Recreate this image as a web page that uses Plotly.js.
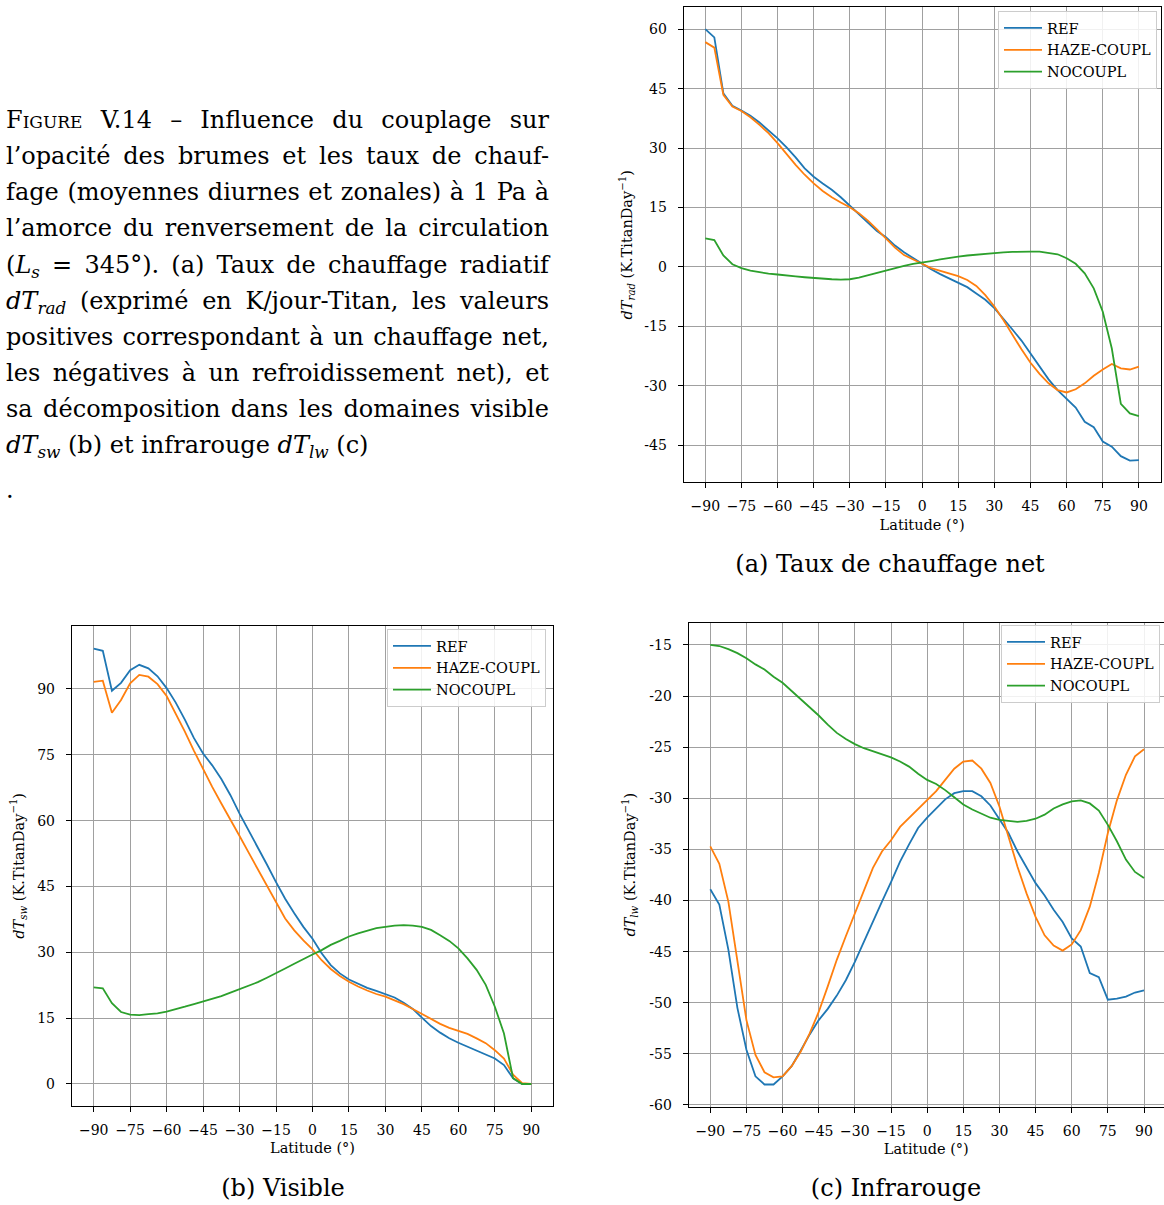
<!DOCTYPE html>
<html>
<head>
<meta charset="utf-8">
<script src="https://cdn.plot.ly/plotly-3.0.1.min.js"></script>
<style>
  html, body { margin: 0; padding: 0; background: #fff; }
  #wrap { position: relative; width: 1164px; height: 1205px; overflow: hidden; }
  #plot { position: absolute; left: 0; top: 0; width: 1164px; height: 1205px; }
  .cap { position: absolute; left: 6px; width: 543px; font-family: "DejaVu Serif", serif;
         font-size: 24px; line-height: 36px; height: 36px; color: #000; white-space: nowrap; }
  .just { text-align: justify; text-align-last: justify; white-space: normal; }
  .cap sub, .sub sub { font-size: 0.7em; vertical-align: -0.3em; line-height: 1; }
  .sc { font-variant: small-caps; }
  .sub { position: absolute; font-family: "DejaVu Serif", serif; font-size: 24px;
         line-height: 30px; height: 30px; color: #000; text-align: center; white-space: nowrap; }
</style>
</head>
<body>
<div id="wrap">
  <div id="plot"></div>
  <div class="cap just" style="top:102px"><span class="sc">Figure</span> V.14 – Influence du couplage sur</div>
  <div class="cap just" style="top:138px">l’opacité des brumes et les taux de chauf-</div>
  <div class="cap just" style="top:174px">fage (moyennes diurnes et zonales) à 1 Pa à</div>
  <div class="cap just" style="top:210px">l’amorce du renversement de la circulation</div>
  <div class="cap just" style="top:247px">(<i>L<sub>s</sub></i> = 345°). (a) Taux de chauffage radiatif</div>
  <div class="cap just" style="top:283px"><i>dT<sub>rad</sub></i> (exprimé en K/jour-Titan, les valeurs</div>
  <div class="cap just" style="top:319px">positives correspondant à un chauffage net,</div>
  <div class="cap just" style="top:355px">les négatives à un refroidissement net), et</div>
  <div class="cap just" style="top:391px">sa décomposition dans les domaines visible</div>
  <div class="cap" style="top:427px"><i>dT<sub>sw</sub></i> (b) et infrarouge <i>dT<sub>lw</sub></i> (c)</div>
  <div class="cap" style="top:472px">.</div>
  <div class="sub" style="left:690px; width:400px; top:549px">(a) Taux de chauffage net</div>
  <div class="sub" style="left:83px; width:400px; top:1173px">(b) Visible</div>
  <div class="sub" style="left:696px; width:400px; top:1173px">(c) Infrarouge</div>
</div>
<script>
// ---------------- data ----------------
const latitude = [-90,-86.25,-82.5,-78.75,-75,-71.25,-67.5,-63.75,-60,-56.25,-52.5,-48.75,-45,-41.25,-37.5,-33.75,-30,-26.25,-22.5,-18.75,-15,-11.25,-7.5,-3.75,0,3.75,7.5,11.25,15,18.75,22.5,26.25,30,33.75,37.5,41.25,45,48.75,52.5,56.25,60,63.75,67.5,71.25,75,78.75,82.5,86.25,90];

const seriesNames = ['REF', 'HAZE-COUPL', 'NOCOUPL'];

// (a) net radiative heating rate dT_rad
const radREF = [60.1,58.0,43.9,40.7,39.5,38.2,36.5,34.6,32.5,30.2,27.7,24.9,22.8,21.1,19.5,17.6,15.5,13.4,11.2,9.1,7.5,5.4,3.7,2.2,0.7,-0.6,-1.8,-2.9,-3.9,-5.1,-6.7,-8.3,-10.4,-13.0,-15.8,-18.6,-21.8,-25.2,-28.4,-31.1,-33.4,-35.5,-39.1,-40.5,-44.1,-45.4,-47.8,-48.9,-48.8];
const radHAZE = [56.8,55.4,43.5,40.5,39.4,37.8,35.9,33.8,31.3,28.5,25.8,23.3,21.1,19.2,17.6,16.3,15.1,13.6,11.7,9.5,7.2,4.9,3.0,1.8,0.8,-0.3,-1.0,-1.6,-2.3,-3.3,-4.8,-7.1,-10.0,-13.4,-17.2,-20.8,-24.2,-27.0,-29.4,-31.1,-31.7,-30.9,-29.4,-27.5,-25.9,-24.5,-25.6,-25.9,-25.2];
const radNOCOUPL = [7.2,6.8,2.9,0.7,-0.3,-0.9,-1.3,-1.7,-1.9,-2.2,-2.4,-2.6,-2.8,-2.9,-3.1,-3.2,-3.1,-2.7,-2.1,-1.4,-0.8,-0.2,0.3,0.8,1.1,1.5,1.9,2.3,2.6,2.9,3.1,3.4,3.5,3.7,3.8,3.9,3.9,3.9,3.6,3.2,2.2,0.8,-1.6,-5.4,-11.3,-20.6,-34.6,-37.0,-37.7];

// (b) visible heating rate dT_sw
const swREF = [99.2,98.7,89.6,91.4,94.3,95.5,94.7,92.9,90.2,86.9,83.0,78.8,75.3,72.6,69.5,65.8,61.6,57.8,54.0,50.0,46.0,42.2,38.9,35.8,33.1,29.8,27.1,25.2,23.8,22.8,21.9,21.2,20.5,19.7,18.5,17.1,15.1,13.2,11.7,10.4,9.4,8.5,7.6,6.8,5.8,4.3,1.3,0.0,0.0];
const swHAZE = [91.6,91.9,84.6,87.5,91.3,93.2,92.8,91.1,88.4,84.4,80.3,75.9,71.7,67.7,63.9,60.3,56.5,52.7,48.9,45.1,41.2,37.7,35.0,32.7,30.7,28.2,26.2,24.6,23.3,22.2,21.3,20.5,19.9,19.1,18.2,17.1,15.9,14.7,13.7,12.8,12.1,11.4,10.4,9.3,7.7,5.8,2.1,0.2,0.0];
const swNOCOUPL = [22.0,21.8,18.4,16.4,15.8,15.7,15.9,16.1,16.5,17.0,17.6,18.2,18.8,19.4,20.0,20.8,21.6,22.3,23.2,24.2,25.2,26.3,27.4,28.5,29.5,30.5,31.7,32.6,33.6,34.3,34.9,35.5,35.8,36.1,36.2,36.1,35.8,35.1,33.9,32.6,30.9,28.6,26.0,22.6,17.6,11.5,1.3,0.0,0.0];

// (c) infrared heating rate dT_lw
const lwREF = [-38.9,-40.4,-44.8,-50.5,-54.6,-57.2,-58.0,-58.0,-57.2,-56.2,-54.7,-53.1,-51.7,-50.6,-49.3,-47.8,-46.0,-44.0,-42.1,-40.1,-38.2,-36.2,-34.5,-32.9,-31.9,-31.0,-30.1,-29.5,-29.3,-29.3,-29.8,-30.7,-32.0,-33.4,-35.2,-36.7,-38.3,-39.5,-40.9,-42.1,-43.7,-44.5,-47.1,-47.5,-49.7,-49.6,-49.4,-49.0,-48.8];
const lwHAZE = [-34.7,-36.4,-40.1,-45.8,-51.7,-55.1,-56.8,-57.3,-57.2,-56.2,-54.8,-53.0,-50.9,-48.4,-45.8,-43.5,-41.2,-39.0,-36.8,-35.2,-34.1,-32.8,-31.9,-31.0,-30.1,-29.3,-28.2,-27.1,-26.4,-26.3,-27.1,-28.5,-30.8,-33.7,-36.7,-39.3,-41.6,-43.4,-44.4,-44.9,-44.3,-42.9,-40.6,-37.3,-33.4,-30.2,-27.7,-25.9,-25.2];
const lwNOCOUPL = [-15.0,-15.1,-15.4,-15.8,-16.3,-16.9,-17.4,-18.1,-18.7,-19.5,-20.3,-21.1,-21.9,-22.8,-23.6,-24.2,-24.7,-25.1,-25.4,-25.7,-26.0,-26.4,-26.9,-27.6,-28.2,-28.6,-29.2,-29.9,-30.6,-31.1,-31.5,-31.9,-32.1,-32.2,-32.3,-32.2,-32.0,-31.6,-31.0,-30.6,-30.3,-30.2,-30.5,-31.2,-32.6,-34.2,-36.0,-37.2,-37.8];

// ticks
const xTicks = [-90,-75,-60,-45,-30,-15,0,15,30,45,60,75,90];
const yTicksRad = [-45,-30,-15,0,15,30,45,60];
const yTicksSw = [0,15,30,45,60,75,90];
const yTicksLw = [-60,-55,-50,-45,-40,-35,-30,-25,-20,-15];

// ---------------- figure ----------------
const W = 1164, H = 1205;
const FONT = 'DejaVu Serif';
const colors = ['#1f77b4', '#ff7f0e', '#2ca02c'];
const hy = v => String(v).replace('\u2212', '-');

function mkTraces(vals, xa, ya, leg) {
  return vals.map((v, i) => ({
    type: 'scatter', mode: 'lines', x: latitude, y: v, name: seriesNames[i],
    xaxis: xa, yaxis: ya, legend: leg,
    line: { color: colors[i], width: 1.8 }
  }));
}

const data = [].concat(
  mkTraces([radREF, radHAZE, radNOCOUPL], 'x', 'y', 'legend'),
  mkTraces([swREF, swHAZE, swNOCOUPL], 'x2', 'y2', 'legend2'),
  mkTraces([lwREF, lwHAZE, lwNOCOUPL], 'x3', 'y3', 'legend3')
);

function xAxis(dom, rng, anchor) {
  return {
    domain: dom, range: rng, anchor: anchor,
    tickvals: xTicks, ticks: 'outside', ticklen: 5, tickcolor: '#000', tickwidth: 1,
    tickfont: { family: FONT, size: 14, color: '#000' }, ticklabelstandoff: 6,
    showgrid: true, gridcolor: '#a0a0a0', gridwidth: 1, zeroline: false,
    showline: true, linecolor: '#000', linewidth: 1, mirror: true,
    title: { text: 'Latitude (°)', font: { family: FONT, size: 14.5, color: '#000' }, standoff: 6 }
  };
}
function yAxis(dom, rng, anchor, tv, title, standoff) {
  return {
    domain: dom, range: rng, anchor: anchor,
    tickvals: tv, ticktext: tv.map(v => hy(v)), ticks: 'outside', ticklen: 5, tickcolor: '#000', tickwidth: 1,
    tickfont: { family: FONT, size: 14, color: '#000' }, ticklabelstandoff: 8,
    showgrid: true, gridcolor: '#a0a0a0', gridwidth: 1, zeroline: false,
    showline: true, linecolor: '#000', linewidth: 1, mirror: true,
    title: { text: title, font: { family: FONT, size: 14.5, color: '#000' }, standoff: standoff }
  };
}
function legendAt(xr, yt) {
  return {
    x: xr / W, xanchor: 'right', y: 1 - yt / H, yanchor: 'top',
    bgcolor: 'rgba(255,255,255,0.85)', bordercolor: '#cccccc', borderwidth: 1,
    itemwidth: 38,
    font: { family: FONT, size: 14.5, color: '#000' }
  };
}

const tRad = '<i>dT</i><sub><i>rad</i></sub> (K.TitanDay<sup>−1</sup>)';
const tSw = '<i>dT</i><sub><i>sw</i></sub> (K.TitanDay<sup>−1</sup>)';
const tLw = '<i>dT</i><sub><i>lw</i></sub> (K.TitanDay<sup>−1</sup>)';

const layout = {
  width: W, height: H,
  margin: { l: 0, r: 0, t: 0, b: 0 },
  paper_bgcolor: '#fff', plot_bgcolor: '#fff',
  font: { family: FONT, color: '#000' },
  showlegend: true,
  xaxis: xAxis([683.6 / W, 1160.6 / W], [-99, 99], 'y'),
  yaxis: yAxis([1 - 482.3 / H, 1 - 7.3 / H], [-54.4, 65.6], 'x', yTicksRad, tRad, 8),
  xaxis2: xAxis([71.8 / W, 553.2 / W], [-99, 99], 'y2'),
  yaxis2: yAxis([1 - 1105.7 / H, 1 - 626 / H], [-4.95, 104.35], 'x2', yTicksSw, tSw, 9),
  xaxis3: xAxis([688.6 / W, 1], [-99, 98.3], 'y3'),
  yaxis3: yAxis([1 - 1106.7 / H, 1 - 622.7 / H], [-60.17, -12.82], 'x3', yTicksLw, tLw, 10),
  legend: legendAt(1157, 11),
  legend2: legendAt(546, 629),
  legend3: legendAt(1160, 625)
};

Plotly.newPlot('plot', data, layout, { staticPlot: true, displayModeBar: false });
</script>
</body>
</html>
